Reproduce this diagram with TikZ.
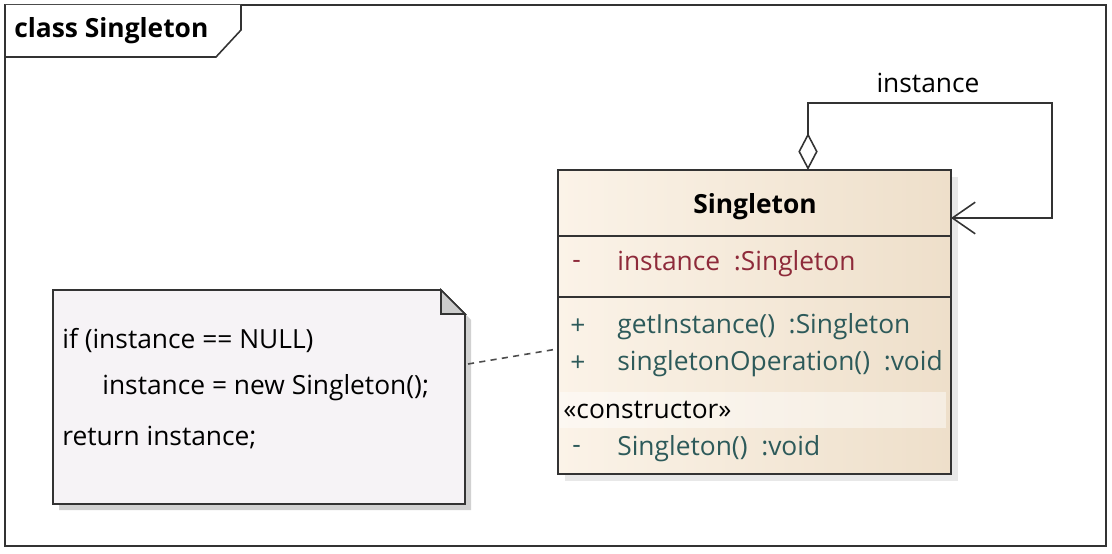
\documentclass[tikz,border=0pt]{standalone}
\usepackage{fontspec}
\setmainfont{Open Sans}
\usetikzlibrary{arrows.meta, shadows, positioning}

\definecolor{attrred}{HTML}{8E2A3A}
\definecolor{opteal}{HTML}{2D5A5A}
\definecolor{notefill}{HTML}{F6F3F6}
\definecolor{clsleft}{HTML}{FBF3E8}
\definecolor{clsright}{HTML}{EEDFCA}

\tikzset{
  txt/.style={anchor=west, inner sep=0pt, font=\fontsize{15}{18}\selectfont},
  attr/.style={txt, text=attrred},
  oper/.style={txt, text=opteal},
  clsbox/.style={draw=black!80, line width=0.9pt, left color=clsleft, right color=clsright,
    drop shadow={shadow xshift=4pt, shadow yshift=-4pt, fill=black!18}},
  assoc/.style={draw=black!80, line width=0.9pt},
}

\begin{document}
\begin{tikzpicture}[x=0.02cm, y=-0.02cm]
\useasboundingbox (0,0) rectangle (1112,554);

% frame
\draw[black!80, line width=0.9pt] (5,5) rectangle (1106,546);
\draw[black!80, line width=0.9pt, fill=white] (5,5) -- (5,57) -- (216,57) -- (241,30) -- (241,5);
\node[txt, font=\fontsize{15}{18}\selectfont\bfseries] (title) at (14,31) {class Singleton};

% note
\fill[black!18] (59,296) -- (447,296) -- (471,320) -- (471,510) -- (59,510) -- cycle;
\draw[black!80, line width=0.9pt, fill=notefill] (53,290) -- (441,290) -- (465,314) -- (465,504) -- (53,504) -- cycle;
\draw[black!80, line width=0.9pt, fill=black!20] (441,290) -- (441,314) -- (465,314) -- cycle;
\node (note) at (259,397) [minimum width=412*0.02cm, minimum height=214*0.02cm] {};
\node[txt] (l1) at (62,340) {if (instance == NULL)};
\node[txt] (l2) at (102,388) {instance = new Singleton();};
\node[txt] (l3) at (62,438) {return instance;};

% class
\node[clsbox, minimum width=393*0.02cm, minimum height=304*0.02cm, inner sep=0pt] (cls) at (754.5,322) {};
\fill[white, opacity=0.45] (560,392) rectangle (946,428);
\draw[black!80, line width=0.9pt] (558,236) -- (951,236);
\draw[black!80, line width=0.9pt] (558,297) -- (951,297);
\node[txt, anchor=center, font=\fontsize{15}{18}\selectfont\bfseries] (name) at (755,207) {Singleton};
\node[attr] (v1) at (572,264) {-};
\node[attr] (a1) at (617,264) {instance\ \ :Singleton};
\node[oper] (v2) at (570,327) {+};
\node[oper] (o1) at (617,327) {getInstance()\ \ :Singleton};
\node[oper] (v3) at (570,364) {+};
\node[oper] (o2) at (617,364) {singletonOperation()\ \ :void};
\node[txt] (st) at (563,410) {«constructor»};
\node[oper] (v4) at (572,449) {-};
\node[oper] (o3) at (617,449) {Singleton()\ \ :void};

% self association
\coordinate (selfA) at (808,170);
\coordinate (selfC) at (1052,103);
\coordinate (selfB) at (951,218);
\draw[assoc, {Diamond[open, length=21pt, width=11pt, fill=white]}-{Straight Barb[length=13pt, width=18pt]}]
  (selfA) |- (selfC) |- (selfB);
\node[txt, anchor=center] (role) at (928,83) {instance};

% note link
\draw[black!70, line width=0.9pt, dash pattern=on 3.5pt off 3pt] (468,364) -- (cls.west |- 0,349);
\end{tikzpicture}
\end{document}
